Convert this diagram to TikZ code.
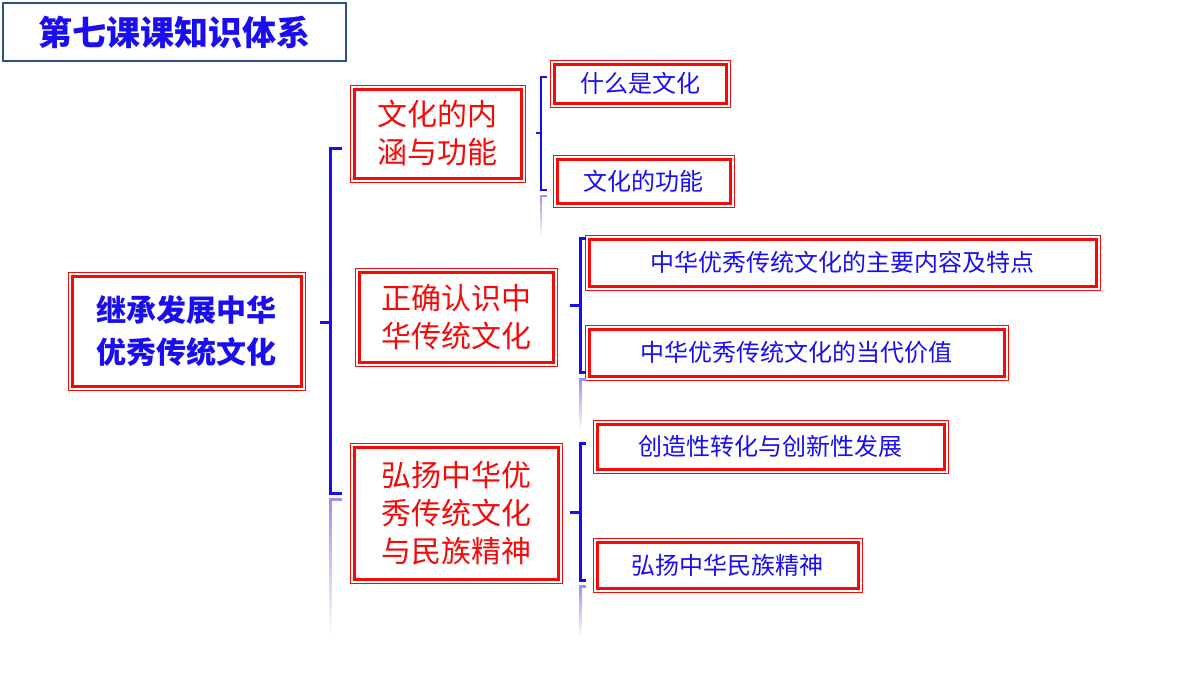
\documentclass[tikz,border=0pt]{standalone}
\usepackage{fontspec}
\setmainfont{Noto Sans CJK SC}
\usetikzlibrary{fadings}
\definecolor{tblue}{HTML}{1A0DF0}
\definecolor{tred}{HTML}{F50A0A}
\definecolor{frame}{HTML}{2F4F8F}
\tikzset{
 dbox/.style={draw=tred,line width=2.6pt,inner sep=0pt,double=white,double distance=1.6pt,fill=white},
 rtxt/.style={text=tred,font=\fontsize{30}{38}\selectfont,align=center},
 btxt/.style={text=tblue,font=\fontsize{24}{28}\selectfont},
 brk/.style={draw=tblue,line width=3pt},
 refl/.style={draw=tblue!45,line width=3pt,path fading=south}
}
\begin{document}
\begin{tikzpicture}[x=1pt,y=-1pt]
\useasboundingbox (0,0) rectangle (1200,675);
% title
\node[draw=frame,line width=2pt,minimum width=343,minimum height=58,anchor=north west,inner sep=0pt,
 text=tblue,font=\bfseries\fontsize{34}{40}\selectfont] (title) at (2,2) {第七课课知识体系};
% boxes
\newcommand{\mybox}[7]{%
 \draw[tred,line width=1pt] (#2,#3) rectangle (#4,#5);
 \draw[tred,line width=3pt] (#2+4,#3+4) rectangle (#4-4,#5-4);
 \node[#6] (#1) at ({(#2+#4)/2},{(#3+#5)/2}) {#7};}
\mybox{root}{68}{272}{305}{390}{text=tblue,font=\bfseries\fontsize{30}{42}\selectfont,align=center}{继承发展中华\\优秀传统文化}
\mybox{a}{350}{85}{525}{182}{rtxt}{文化的内\\涵与功能}
\mybox{b}{355}{268}{557}{366}{rtxt}{正确认识中\\华传统文化}
\mybox{c}{350}{443}{562}{583}{rtxt}{弘扬中华优\\秀传统文化\\与民族精神}
\mybox{a1}{550}{60}{730}{107}{btxt}{什么是文化}
\mybox{a2}{553}{155}{734}{207}{btxt}{文化的功能}
\mybox{b1}{585}{235}{1100}{290}{btxt}{中华优秀传统文化的主要内容及特点}
\mybox{b2}{585}{325}{1008}{380}{btxt}{中华优秀传统文化的当代价值}
\mybox{c1}{593}{420}{948}{473}{btxt}{创造性转化与创新性发展}
\mybox{c2}{593}{538}{862}{592}{btxt}{弘扬中华民族精神}
% brackets
\draw[brk] (342,148) -- (330,148) -- (330,493) -- (342,493);
\draw[brk] (320,322) -- (330,322);
\draw[refl] (342,500) -- (330,500) -- (330,635);
\draw[brk,line width=2.5pt] (547,77) -- (541,77) -- (541,190) -- (547,190);
\draw[brk,line width=2.5pt] (536,133) -- (541,133);
\draw[refl,line width=2.5pt] (547,196) -- (541,196) -- (541,236);
\draw[brk] (586,238) -- (580,238) -- (580,372) -- (586,372);
\draw[brk] (570,305) -- (580,305);
\draw[refl] (586,380) -- (580,380) -- (580,430);
\draw[brk] (586,443) -- (580,443) -- (580,580) -- (586,580);
\draw[brk] (570,512) -- (580,512);
\draw[refl] (586,587) -- (580,587) -- (580,636);
\end{tikzpicture}
\end{document}
